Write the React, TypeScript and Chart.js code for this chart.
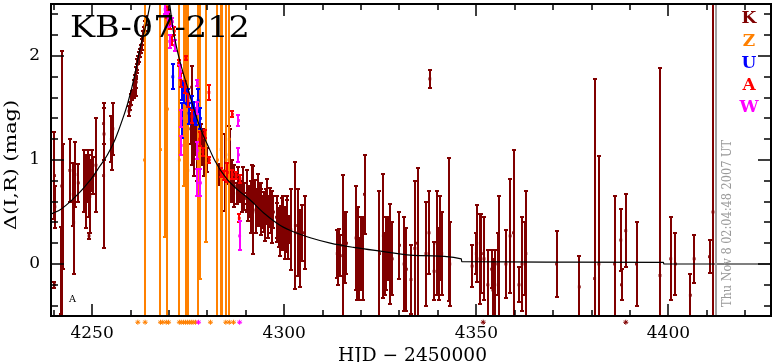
import React, { useEffect, useRef } from "react";
import { Chart, registerables } from "chart.js";

Chart.register(...registerables);

// ---------- axis ranges & ticks ----------
const X_MIN = 4239.3;
const X_MAX = 4426.7;
const Y_MIN = -0.5;
const Y_MAX = 2.5;
const xTickValues = [4250, 4300, 4350, 4400];
const yTickValues = [0, 1, 2];
const NOW_HJD = 4412.4;

const TITLE = "KB-07-212";
const X_LABEL = "HJD \u2212 2450000";
const Y_LABEL = "\u0394(I,R) (mag)";
const DATE_TEXT = "Thu Nov 8 02:04:48 2007 UT";
const LEGEND_LETTERS = ["K", "Z", "U", "A", "W"];
const LEGEND_COLORS = ["#800000", "#ff8000", "#0000ff", "#ff0000", "#ff00ff"];

// ---------- model curve [HJD, mag] ----------
const MODEL: [number, number][] = [
  [4239.3, 0.48], [4242, 0.53], [4244, 0.59], [4246, 0.66], [4248, 0.74],
  [4250, 0.83], [4252, 0.94], [4254, 1.05], [4256, 1.2], [4258, 1.4],
  [4259.3, 1.55], [4261, 1.8], [4262.4, 2.06], [4264, 2.3], [4265.1, 2.5],
  [4266.5, 2.8], [4268, 2.95], [4269.5, 2.7], [4270.2, 2.5], [4271, 2.27],
  [4272, 2.08], [4273, 1.93], [4274, 1.8], [4275, 1.68], [4276, 1.55],
  [4277, 1.43], [4278, 1.32], [4279, 1.23], [4280, 1.15], [4282, 0.99],
  [4285, 0.82], [4288, 0.71], [4291, 0.62], [4295, 0.48], [4299, 0.37],
  [4303, 0.3], [4307, 0.25], [4312, 0.2], [4318, 0.16], [4324.5, 0.127],
  [4335, 0.08], [4346.1, 0.05], [4346.2, 0.022], [4375, 0.018], [4398.7, 0.015],
  [4398.8, 0.0], [4426.7, 0.0],
];

// ---------- data [HJD, mag, err] ----------
const K_DATA: [number, number, number][] = [
  [4240.2, 0.85, 0.42], [4240.3, 0.55, 0.2], [4240.2, -0.2, 0.03], [4242.1, 0.75, 1.3],
  [4242.3, 0.55, 0.6], [4242.0, -0.06, 0.42], [4244.2, 0.9, 0.3], [4245.1, 0.67, 0.3],
  [4245.2, 0.4, 0.5], [4245.5, 0.86, 0.31], [4246.4, 0.78, 0.18], [4248.0, 0.8, 0.3],
  [4248.3, 0.7, 0.35], [4248.5, 0.6, 0.25], [4249.0, 0.85, 0.25], [4249.2, 0.75, 0.3],
  [4249.4, 0.65, 0.35], [4249.2, 0.27, 0.03], [4249.9, 0.9, 0.2], [4250.3, 0.85, 0.18],
  [4251.0, 0.95, 0.45], [4253.0, 0.85, 0.7], [4253.1, 1.25, 0.25], [4253.0, 1.35, 0.2],
  [4255.0, 1.2, 0.22], [4255.2, 1.1, 0.2], [4255.4, 1.3, 0.25],
  [4259.6, 1.47, 0.05], [4259.9, 1.52, 0.04], [4260.2, 1.58, 0.05], [4260.5, 1.62, 0.04],
  [4260.8, 1.66, 0.06], [4261.0, 1.72, 0.05], [4261.2, 1.78, 0.04], [4261.4, 1.84, 0.05],
  [4261.6, 1.88, 0.04], [4261.8, 1.92, 0.05], [4262.0, 1.96, 0.04], [4262.2, 1.99, 0.05],
  [4262.5, 2.03, 0.04], [4262.7, 2.07, 0.04], [4262.9, 2.11, 0.05], [4263.1, 2.15, 0.04],
  [4263.3, 2.19, 0.05], [4263.5, 2.24, 0.04], [4263.7, 2.29, 0.05], [4263.9, 2.34, 0.04],
  [4261.3, 1.7, 0.08], [4261.5, 1.75, 0.06],
  [4269.6, 2.45, 0.05], [4270.0, 2.4, 0.04],
  [4275.9, 1.7, 0.2], [4275.7, 1.3, 0.15], [4276.0, 1.2, 0.25], [4276.2, 1.4, 0.08],
  [4276.5, 1.15, 0.3], [4276.8, 1.3, 0.1], [4277.0, 1.25, 0.2], [4277.3, 1.1, 0.3],
  [4277.5, 1.3, 0.12], [4277.8, 1.2, 0.15], [4278.0, 1.15, 0.2], [4278.3, 1.25, 0.1],
  [4278.6, 1.1, 0.15], [4278.9, 1.2, 0.1], [4279.2, 1.05, 0.2], [4279.5, 1.15, 0.12],
  [4279.9, 1.0, 0.12],
  [4283.1, 0.86, 0.1], [4284.6, 0.88, 0.37], [4285.7, 1.05, 0.28], [4285.9, 0.95, 0.35],
  [4286.3, 0.8, 0.2], [4287.0, 0.75, 0.2],
  [4287.8, 0.68, 0.1], [4288.0, 0.78, 0.15], [4288.3, 0.72, 0.12], [4288.7, 0.68, 0.08],
  [4288.9, 0.62, 0.12], [4289.1, 0.7, 0.1], [4289.4, 0.75, 0.18], [4289.6, 0.65, 0.13],
  [4290.2, 0.63, 0.05], [4290.4, 0.7, 0.2], [4290.7, 0.57, 0.16], [4291.0, 0.6, 0.15],
  [4291.3, 0.55, 0.25], [4291.6, 0.65, 0.3], [4291.9, 0.52, 0.42], [4292.4, 0.7, 0.11],
  [4292.7, 0.5, 0.2], [4293.0, 0.55, 0.17], [4293.2, 0.62, 0.25], [4293.4, 0.58, 0.2],
  [4293.9, 0.5, 0.22], [4294.0, 0.6, 0.18], [4294.3, 0.5, 0.15], [4294.7, 0.5, 0.19],
  [4294.9, 0.42, 0.2], [4295.2, 0.55, 0.17], [4295.4, 0.6, 0.22], [4295.6, 0.52, 0.12],
  [4295.9, 0.45, 0.2], [4296.0, 0.5, 0.14], [4296.3, 0.55, 0.18], [4296.5, 0.43, 0.13],
  [4296.9, 0.45, 0.25], [4297.2, 0.5, 0.15], [4298.0, 0.45, 0.2], [4298.2, 0.4, 0.19],
  [4298.6, 0.35, 0.19], [4298.9, 0.3, 0.22], [4299.1, 0.41, 0.15], [4299.5, 0.38, 0.25],
  [4299.7, 0.45, 0.2], [4299.9, 0.35, 0.2], [4300.2, 0.3, 0.25], [4300.4, 0.4, 0.14],
  [4300.6, 0.45, 0.2], [4300.8, 0.37, 0.25], [4301.0, 0.25, 0.2], [4301.2, 0.33, 0.13],
  [4301.7, 0.33, 0.39], [4302.9, 0.37, 0.61], [4303.5, 0.3, 0.42], [4304.0, 0.15, 0.37],
  [4304.6, 0.3, 0.27], [4305.3, 0.3, 0.35],
  [4313.8, 0.1, 0.23], [4314.0, 0.05, 0.25], [4314.3, 0.12, 0.22], [4314.6, 0.08, 0.2],
  [4315.2, 0.18, 0.68], [4315.8, 0.15, 0.33], [4316.2, 0.2, 0.3],
  [4318.7, 0.25, 0.5], [4318.9, 0.05, 0.4], [4319.1, 0.2, 0.35], [4319.4, -0.05, 0.3],
  [4320.0, 0.1, 0.35], [4320.4, 0.05, 0.4], [4320.9, 0.67, 0.38],
  [4324.8, 0.1, 0.6], [4325.8, 0.27, 0.6], [4326.2, 0.0, 0.3], [4326.6, 0.1, 0.35],
  [4326.9, 0.15, 0.3], [4327.6, 0.1, 0.48], [4328.1, 0.05, 0.35], [4330.0, 0.18, 0.32],
  [4331.2, 0.0, 0.45], [4331.8, -0.05, 0.4], [4333.0, -0.15, 0.33], [4334.0, 0.15, 0.65],
  [4334.7, 0.2, 0.72], [4336.9, 0.1, 0.5], [4337.7, 0.3, 0.4], [4337.9, 1.78, 0.085],
  [4339.0, -0.07, 0.28], [4339.8, 0.2, 0.5], [4340.3, 0.0, 0.35], [4340.6, 0.25, 0.4],
  [4341.0, 0.1, 0.4], [4343.0, 0.33, 0.69], [4343.1, 0.0, 0.4],
  [4348.9, -0.02, 0.2], [4350.1, 0.2, 0.37], [4350.0, 0.1, 0.2], [4351.0, 0.05, 0.43],
  [4351.3, 0.1, 0.38], [4352.0, 0.05, 0.4], [4353.0, -0.2, 0.33], [4354.0, -0.05, 0.18],
  [4354.3, -0.25, 0.3], [4354.8, -0.2, 0.33], [4355.8, 0.05, 0.6], [4355.6, 0.0, 0.3],
  [4357.7, 0.0, 0.33], [4358.8, 0.27, 0.55], [4359.7, 0.3, 0.8], [4361.1, -0.2, 0.17],
  [4361.9, 0.0, 0.45], [4362.9, 0.1, 0.6], [4362.8, 0.05, 0.35],
  [4370.9, 0.0, 0.32], [4376.8, -0.22, 0.3], [4380.8, -0.14, 1.92], [4381.9, 0.0, 1.04],
  [4386.0, 0.0, 0.65], [4387.6, 0.23, 0.3], [4387.8, -0.2, 0.15], [4388.9, 0.32, 0.35],
  [4391.7, 0.0, 0.4], [4397.8, -0.11, 1.99], [4400.6, 0.05, 0.4], [4401.8, 0.0, 0.3],
  [4405.7, -0.3, 0.2], [4406.7, 0.05, 0.23], [4410.7, 0.07, 0.16], [4411.6, 0.5, 3.0],
];

const Z_DATA: [number, number, number][] = [
  [4263.65, 1.0, 4.0], [4267.8, 1.1, 4.0], [4269.1, 3.26, 3.0], [4269.6, 1.49, 4.0],
  [4272.7, 1.0, 4.0], [4274.0, 3.75, 3.0], [4274.5, 1.2, 4.0], [4274.9, 0.9, 4.0],
  [4277.6, 1.0, 4.0], [4278.2, 2.86, 3.0], [4279.7, 3.21, 3.0], [4282.6, 1.0, 4.0],
  [4283.6, 1.1, 4.0], [4283.9, 0.9, 4.0], [4284.9, 1.0, 4.0], [4285.7, 1.2, 4.0],
];

const U_DATA: [number, number, number][] = [
  [4271.0, 1.8, 0.12], [4273.3, 1.38, 0.17], [4273.5, 1.67, 0.09], [4274.0, 1.65, 0.1],
  [4274.8, 1.6, 0.06], [4275.0, 1.6, 0.08], [4275.2, 1.45, 0.1], [4276.0, 1.55, 0.07],
  [4276.5, 1.46, 0.1], [4277.0, 1.42, 0.08], [4277.6, 1.57, 0.11], [4278.2, 1.4, 0.1],
];

const A_DATA: [number, number, number][] = [
  [4269.4, 2.42, 0.05], [4270.2, 2.32, 0.06], [4270.9, 2.15, 0.04], [4271.4, 2.24, 0.04],
  [4272.5, 1.93, 0.03], [4273.1, 1.77, 0.07], [4274.3, 1.7, 0.06], [4274.4, 1.98, 0.02],
  [4275.0, 1.57, 0.06], [4276.0, 1.42, 0.06], [4278.0, 1.2, 0.07], [4278.8, 1.08, 0.04],
  [4279.3, 1.25, 0.04], [4280.4, 1.65, 0.07], [4280.5, 1.0, 0.03], [4283.6, 0.88, 0.04],
  [4284.2, 0.85, 0.04], [4285.2, 0.88, 0.09], [4286.5, 1.44, 0.03], [4286.5, 0.86, 0.04],
  [4287.5, 0.85, 0.03], [4288.5, 0.82, 0.04], [4288.3, 0.44, 0.04],
];

const W_DATA: [number, number, number][] = [
  [4269.0, 2.45, 0.05], [4269.8, 2.35, 0.07], [4270.2, 2.14, 0.06], [4270.9, 2.33, 0.04],
  [4271.5, 2.1, 0.05], [4273.0, 1.85, 0.06], [4273.2, 1.4, 0.08], [4273.2, 1.14, 0.09],
  [4277.4, 1.74, 0.03], [4277.3, 1.5, 0.06], [4277.4, 1.09, 0.08], [4277.4, 0.78, 0.13],
  [4278.2, 0.78, 0.13], [4288.1, 1.38, 0.05], [4288.1, 1.05, 0.07], [4288.4, 0.27, 0.14],
];

// markers below the axis (HJD only)
const STAR_Z = [
  4261.9, 4263.8, 4267.8, 4268.4, 4269.3, 4269.9, 4272.7, 4273.2, 4273.8, 4274.3,
  4274.8, 4275.3, 4275.8, 4276.3, 4276.9, 4280.8, 4284.8, 4285.7, 4286.8,
];
const STAR_W = [4277.7, 4288.4];
const STAR_K = [4351.8, 4388.9];
const STAR_LEVEL = -0.56;

const FONT = "'DejaVu Serif', 'Liberation Serif', serif";

const SERIES = [
  { label: "K", data: K_DATA, color: "#800000", order: 5 },
  { label: "Z", data: Z_DATA, color: "#ff8000", order: 4 },
  { label: "U", data: U_DATA, color: "#0000ff", order: 3 },
  { label: "A", data: A_DATA, color: "#ff0000", order: 2 },
  { label: "W", data: W_DATA, color: "#ff00ff", order: 1 },
];

const errMap: Record<string, { errs: number[]; color: string }> = {};
SERIES.forEach((s) => {
  errMap[s.label] = { errs: s.data.map((d) => d[2]), color: s.color };
});

function fitText(
  ctx: CanvasRenderingContext2D,
  text: string,
  x: number,
  y: number,
  width: number,
  font: string,
  color: string,
  rotate = 0,
  align: CanvasTextAlign = "center",
  baseline: CanvasTextBaseline = "alphabetic"
) {
  ctx.save();
  ctx.font = font;
  ctx.fillStyle = color;
  ctx.textAlign = align;
  ctx.textBaseline = baseline;
  const w = ctx.measureText(text).width;
  ctx.translate(x, y);
  if (rotate) ctx.rotate(rotate);
  ctx.scale(width / w, 1);
  ctx.fillText(text, 0, 0);
  ctx.restore();
}

const errorBarPlugin = {
  id: "errorBars",
  beforeDatasetDraw(chart: any, args: any) {
    const ds = chart.data.datasets[args.index];
    const info = errMap[ds.label];
    if (!info) return;
    const { ctx, chartArea } = chart;
    const xs = chart.scales.x;
    const ys = chart.scales.y;
    ctx.save();
    ctx.beginPath();
    ctx.rect(chartArea.left, chartArea.top, chartArea.right - chartArea.left, chartArea.bottom - chartArea.top);
    ctx.clip();
    ctx.strokeStyle = info.color;
    ctx.lineWidth = 2;
    const cap = 2;
    ds.data.forEach((p: any, i: number) => {
      const e = info.errs[i];
      const px = Math.round(xs.getPixelForValue(p.x));
      const y1 = Math.round(ys.getPixelForValue(p.y + e));
      const y2 = Math.round(ys.getPixelForValue(p.y - e));
      ctx.beginPath();
      ctx.moveTo(px, y1);
      ctx.lineTo(px, y2);
      ctx.moveTo(px - cap, y1);
      ctx.lineTo(px + cap, y1);
      ctx.moveTo(px - cap, y2);
      ctx.lineTo(px + cap, y2);
      ctx.stroke();
    });
    ctx.restore();
  },
};

const framePlugin = {
  id: "frame",
  afterDraw(chart: any) {
    const { ctx, chartArea } = chart;
    const xs = chart.scales.x;
    const ys = chart.scales.y;
    const { left, right, top, bottom } = chartArea;

    // "now" line
    ctx.save();
    const nx = Math.round(xs.getPixelForValue(NOW_HJD));
    ctx.strokeStyle = "#a0a0a0";
    ctx.lineWidth = 2;
    ctx.beginPath();
    ctx.moveTo(nx, top);
    ctx.lineTo(nx, bottom);
    ctx.stroke();
    ctx.restore();

    // frame
    ctx.save();
    ctx.strokeStyle = "#000";
    ctx.lineWidth = 2;
    ctx.strokeRect(left, top, right - left, bottom - top);
    ctx.lineWidth = 1.5;
    ctx.beginPath();
    for (let v = 4240; v <= 4420; v += 10) {
      const px = Math.round(xs.getPixelForValue(v));
      const len = v % 50 === 0 ? 12 : 6;
      ctx.moveTo(px, bottom);
      ctx.lineTo(px, bottom - len);
      ctx.moveTo(px, top);
      ctx.lineTo(px, top + len);
    }
    for (let i = -2; i <= 12; i++) {
      const v = i * 0.2;
      const py = Math.round(ys.getPixelForValue(v));
      const len = i % 5 === 0 ? 13 : 7;
      ctx.moveTo(left, py);
      ctx.lineTo(left + len, py);
      ctx.moveTo(right, py);
      ctx.lineTo(right - len, py);
    }
    ctx.stroke();
    ctx.restore();

    // star markers below axis
    const drawStar = (t: number, color: string) => {
      const px = xs.getPixelForValue(t);
      const py = ys.getPixelForValue(STAR_LEVEL);
      const r = 2.5;
      ctx.save();
      ctx.strokeStyle = color;
      ctx.lineWidth = 1;
      ctx.beginPath();
      ctx.moveTo(px - r, py);
      ctx.lineTo(px + r, py);
      ctx.moveTo(px, py - r);
      ctx.lineTo(px, py + r);
      ctx.moveTo(px - r * 0.7, py - r * 0.7);
      ctx.lineTo(px + r * 0.7, py + r * 0.7);
      ctx.moveTo(px - r * 0.7, py + r * 0.7);
      ctx.lineTo(px + r * 0.7, py - r * 0.7);
      ctx.stroke();
      ctx.restore();
    };
    STAR_Z.forEach((t) => drawStar(t, "#ff8000"));
    STAR_W.forEach((t) => drawStar(t, "#ff00ff"));
    STAR_K.forEach((t) => drawStar(t, "#800000"));

    // texts
    fitText(ctx, TITLE, 70, 37, 180, `30px ${FONT}`, "#000", 0, "left");
    fitText(ctx, X_LABEL, 412.5, 361, 149, `18px ${FONT}`, "#000");
    fitText(ctx, Y_LABEL, 12, 165, 130, `17px ${FONT}`, "#000", -Math.PI / 2, "center", "middle");
    fitText(ctx, DATE_TEXT, 727.5, 223.5, 167, `12px ${FONT}`, "#999999", -Math.PI / 2, "center", "middle");
    fitText(ctx, "A", 72.5, 302, 7, `10px ${FONT}`, "#000");
    const baselines = [23.3, 45.7, 68.3, 90, 111.7];
    LEGEND_LETTERS.forEach((l, i) => {
      ctx.save();
      ctx.font = `bold 17px ${FONT}`;
      ctx.fillStyle = LEGEND_COLORS[i];
      ctx.textAlign = "center";
      ctx.textBaseline = "alphabetic";
      ctx.fillText(l, 749, baselines[i]);
      ctx.restore();
    });
  },
};

export default function App() {
  const ref = useRef<HTMLCanvasElement | null>(null);
  useEffect(() => {
    document.body.style.margin = "0";
    const canvas = ref.current;
    if (!canvas) return;
    const datasets: any[] = SERIES.map((s) => ({
      type: "scatter",
      label: s.label,
      data: s.data.map((d) => ({ x: d[0], y: d[1] })),
      backgroundColor: s.color,
      borderColor: s.color,
      borderWidth: 0,
      pointStyle: "rect",
      pointRadius: 2,
      order: s.order,
    }));
    datasets.push({
      type: "line",
      label: "model",
      data: MODEL.map((d) => ({ x: d[0], y: d[1] })),
      borderColor: "#000",
      borderWidth: 1.2,
      pointRadius: 0,
      showLine: true,
      fill: false,
      cubicInterpolationMode: "monotone",
      order: 0,
    });
    const chart = new Chart(canvas, {
      type: "scatter",
      data: { datasets },
      options: {
        animation: false,
        responsive: false,
        devicePixelRatio: 1,
        events: [],
        layout: { padding: { top: 1, right: 1, left: 0, bottom: 0 } },
        plugins: { legend: { display: false }, tooltip: { enabled: false } },
        scales: {
          x: {
            type: "linear",
            min: X_MIN,
            max: X_MAX,
            grid: { display: false, drawTicks: false },
            border: { display: false },
            ticks: {
              font: { family: FONT, size: 17 },
              color: "#000",
              padding: 7,
              maxRotation: 0,
              callback: (v: any) => String(v),
            },
            afterBuildTicks: (s: any) => {
              s.ticks = xTickValues.map((v) => ({ value: v }));
            },
            afterFit: (s: any) => {
              s.height = 46;
              s.paddingLeft = 0;
              s.paddingRight = 0;
              s.paddingTop = 0;
              s.paddingBottom = 0;
            },
          },
          y: {
            type: "linear",
            min: Y_MIN,
            max: Y_MAX,
            grid: { display: false, drawTicks: false },
            border: { display: false },
            ticks: {
              font: { family: FONT, size: 17 },
              color: "#000",
              padding: 11,
              callback: (v: any) => String(v),
            },
            afterBuildTicks: (s: any) => {
              s.ticks = yTickValues.map((v) => ({ value: v }));
            },
            afterFit: (s: any) => {
              s.width = 51;
              s.paddingLeft = 0;
              s.paddingRight = 0;
              s.paddingTop = 0;
              s.paddingBottom = 0;
            },
          },
        },
      } as any,
      plugins: [errorBarPlugin, framePlugin],
    });
    return () => chart.destroy();
  }, []);
  return (
    <div style={{ position: "absolute", left: 0, top: 0, width: 775, height: 362, background: "#fff" }}>
      <canvas ref={ref} width={775} height={362} style={{ display: "block" }} />
    </div>
  );
}
